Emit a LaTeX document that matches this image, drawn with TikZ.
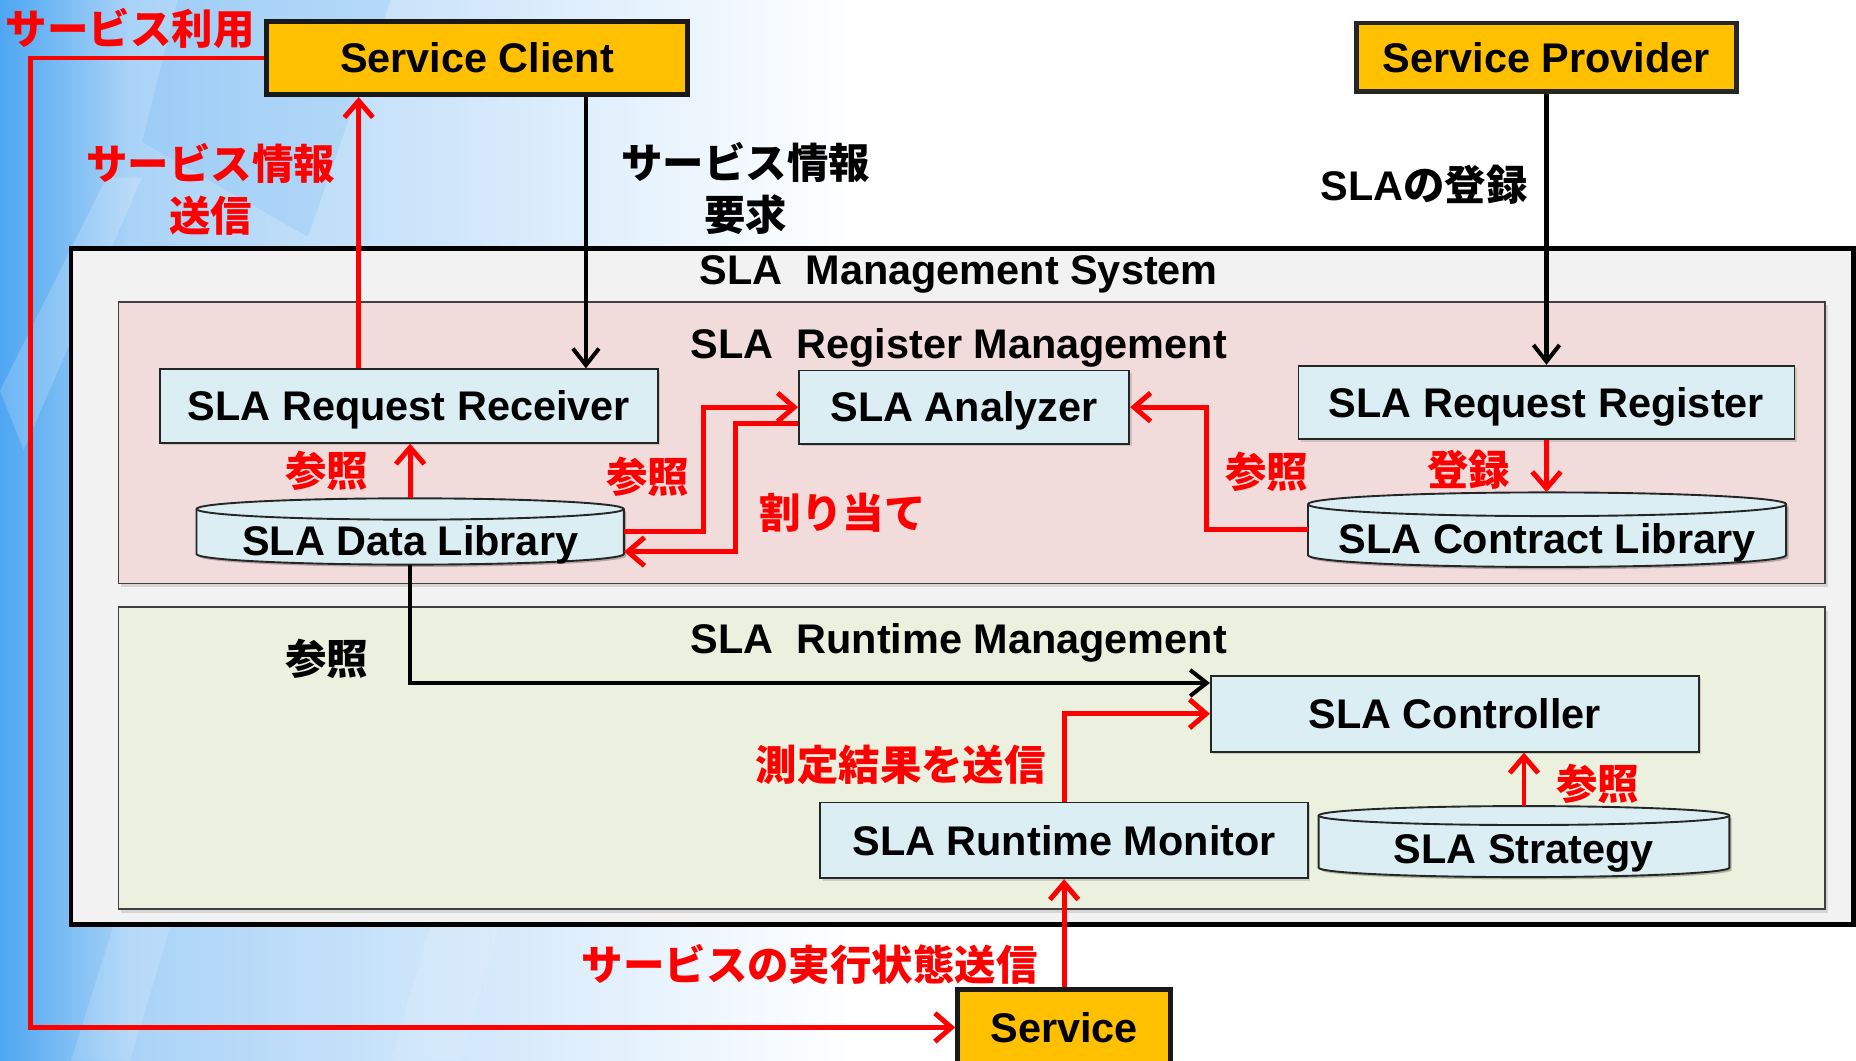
\documentclass[tikz,border=0pt]{standalone}
\usepackage{fontspec}
\setmainfont{Liberation Sans}
\newfontfamily\jp{Noto Sans CJK JP}
\usetikzlibrary{arrows.meta,shadows}

\definecolor{orangeF}{HTML}{FFC000}
\definecolor{blueF}{HTML}{DAEEF3}
\definecolor{pinkF}{HTML}{F2DCDB}
\definecolor{greenF}{HTML}{EBF1DE}
\definecolor{sysF}{HTML}{F2F2F2}
\definecolor{bgA}{RGB}{78,166,242}
\definecolor{bgB}{RGB}{170,211,247}
\definecolor{linkred}{HTML}{FF0000}

% cylinder body: left, top, right, bottom, half-height of the end ellipses
\newcommand\drawcyl[5]{%
  \pgfmathsetmacro\cylrx{(#3-#1)/2}%
  \fill[black,opacity=.25] (#1+2,#2+#5+2) -- (#1+2,#4-#5+2)
    arc[start angle=180,end angle=360,x radius=\cylrx pt,y radius=#5pt]
    -- (#3+2,#2+#5+2) -- cycle;
  \draw[cylbody] (#1,#2+#5) -- (#1,#4-#5)
    arc[start angle=180,end angle=360,x radius=\cylrx pt,y radius=#5pt]
    -- (#3,#2+#5)
    arc[start angle=0,end angle=180,x radius=\cylrx pt,y radius=#5pt] -- cycle;
  \draw[cylbody,fill=none] (#1,#2+#5)
    arc[start angle=180,end angle=360,x radius=\cylrx pt,y radius=#5pt];
}

\tikzset{
  lab/.style={font=\bfseries\fontsize{35}{42}\selectfont, inner sep=0pt,
    text height=25pt, text depth=0pt},
  jlab/.style={font=\jp\bfseries\fontsize{35}{44}\selectfont, align=center, inner sep=0pt},
  redtext/.style={text=linkred},
  obox/.style={draw=black!90, line width=4pt, fill=orangeF, inner sep=0pt,
    font=\bfseries\fontsize{35}{42}\selectfont, text height=25pt, text depth=0pt},
  bbox/.style={draw=black!85, line width=1.6pt, fill=blueF, inner sep=0pt,
    font=\bfseries\fontsize{35}{42}\selectfont, text height=25pt, text depth=0pt,
    drop shadow={shadow xshift=2pt, shadow yshift=-2pt, opacity=.3}},
  secbox/.style={draw=black!75, line width=1.3pt, inner sep=0pt,
    drop shadow={shadow xshift=2pt, shadow yshift=-3pt, opacity=.25}},
  sysbox/.style={draw=black, line width=4pt, fill=sysF, inner sep=0pt},
  cylspot/.style={inner sep=0pt},
  cylbody/.style={draw=black!85, line width=1.6pt, fill=blueF},
  rarrow/.style={draw=linkred, line width=4.2pt, line join=miter,
    -{Straight Barb[length=14pt,width=24pt]}},
  barrow/.style={draw=black, line width=3.4pt, line join=miter,
    -{Straight Barb[length=14pt,width=22pt]}},
}

\begin{document}
\begin{tikzpicture}[x=1pt,y=-1pt]
  \useasboundingbox (0,0) rectangle (1568,896);

  % backdrop: blue wash on the left fading to white
  \fill[white] (0,0) rectangle (1568,896);
  \fill[left color=bgA,right color=bgB] (0,0) rectangle (110,896);
  \fill[left color=bgB,right color=white] (110,0) rectangle (720,896);
  \fill[white,opacity=.18] (0,330) -- (90,150) -- (120,150) -- (20,380) -- cycle;
  \fill[white,opacity=.15] (60,896) -- (260,260) -- (300,260) -- (110,896) -- cycle;
  \fill[white,opacity=.12] (330,896) -- (470,420) -- (520,420) -- (390,896) -- cycle;
  \fill[bgA,opacity=.15] (150,0) -- (330,0) -- (260,200) -- (120,120) -- cycle;

  % containers
  \node[sysbox, minimum width=1506, minimum height=571] (sys) at (813,495.5) {};
  \node[secbox, fill=pinkF, minimum width=1442, minimum height=238] (reg) at (821,374) {};
  \node[secbox, fill=greenF, minimum width=1442, minimum height=255] (rt) at (821,640.5) {};
  \node[lab] (systitle) at (810,228) {SLA\ \ Management System};
  \node[lab] (regtitle) at (810,290) {SLA\ \ Register Management};
  \node[lab] (rttitle) at (810,540) {SLA\ \ Runtime Management};

  % actors
  \node[obox, minimum width=356, minimum height=62] (client) at (403,49) {Service Client};
  \node[obox, draw=black!85, minimum width=321, minimum height=58] (provider) at (1306.5,48.5) {Service Provider};
  \node[obox, minimum width=180, minimum height=64] (service) at (899,868) {Service};

  % components
  \node[bbox, minimum width=421, minimum height=62] (recv) at (345.5,343) {SLA Request Receiver};
  \node[bbox, minimum width=279, minimum height=62] (analyzer) at (814.5,344) {SLA Analyzer};
  \node[bbox, minimum width=419, minimum height=62] (register) at (1306.5,340) {SLA Request Register};
  \node[bbox, minimum width=412, minimum height=64] (controller) at (1229,603) {SLA Controller};
  \node[bbox, minimum width=412, minimum height=64] (monitor) at (899,710) {SLA Runtime Monitor};

  % data stores
  \node[cylspot, minimum width=361, minimum height=56] (datalib) at (346.5,449) {};
  \drawcyl{166}{421}{527}{477}{9}
  \node[lab] (datalib-l) at (346.5,457) {SLA Data Library};
  \node[cylspot, minimum width=404, minimum height=63] (contract) at (1307,447.5) {};
  \drawcyl{1105}{416}{1509}{479}{10}
  \node[lab] (contract-l) at (1307,455) {SLA Contract Library};
  \node[cylspot, minimum width=347, minimum height=60] (strategy) at (1287.5,711) {};
  \drawcyl{1114}{681}{1461}{741}{8}
  \node[lab] (strategy-l) at (1287.5,717) {SLA Strategy};

  % routing columns
  \coordinate (xL) at (26,0);
  \coordinate (xA) at (303,0);
  \coordinate (xB) at (495,0);
  \coordinate (xC) at (594,0);
  \coordinate (xD) at (621,0);
  \coordinate (xE) at (1019,0);
  \coordinate (anOut) at ([yshift=-14pt]analyzer.west);
  \coordinate (dlIn) at ([yshift=-17pt]datalib.east);
  \coordinate (ctIn) at ([yshift=26pt]controller.west);

  % connectors
  \draw[rarrow] (client.west) -- (client.west -| xL) -- (service.west -| xL) -- (service.west);
  \draw[rarrow] (recv.north -| xA) -- (client.south -| xA);
  \draw[barrow] (client.south -| xB) -- (recv.north -| xB);
  \draw[barrow] (provider.south) -- (register.north);
  \draw[rarrow] (datalib.north) -- (datalib.north |- recv.south);
  \draw[rarrow] (datalib.east) -- (datalib.east -| xC) -- (analyzer.west -| xC) -- (analyzer.west);
  \draw[rarrow] (anOut) -- (anOut -| xD) -- (dlIn -| xD) -- (dlIn);
  \draw[rarrow] (contract.west) -- (contract.west -| xE) -- (analyzer.east -| xE) -- (analyzer.east);
  \draw[rarrow] (register.south) -- (register.south |- contract.north);
  \draw[barrow] (datalib.south) -- (datalib.south |- ctIn) -- (ctIn);
  \draw[rarrow] (monitor.north) -- (monitor.north |- controller.west) -- (controller.west);
  \draw[rarrow] (strategy.north) -- (strategy.north |- controller.south);
  \draw[rarrow] (service.north) -- (monitor.south);

  % connector labels
  \node[jlab, redtext] (l-use) at (110,24) {サービス利用};
  \node[jlab, redtext] (l-infosend) at (178,160) {サービス情報\\送信};
  \node[jlab] (l-inforeq) at (630,159) {サービス情報\\要求};
  \node[lab] (l-slareg) at (1203,157) {SLA{\jp\bfseries の登録}};
  \node[jlab, redtext] (l-ref1) at (276,398) {参照};
  \node[jlab, redtext] (l-ref2) at (547,403) {参照};
  \node[jlab, redtext] (l-assign) at (712,433) {割り当て};
  \node[jlab, redtext] (l-ref3) at (1070,399) {参照};
  \node[jlab, redtext] (l-regist) at (1241,397) {登録};
  \node[jlab] (l-ref4) at (276,557) {参照};
  \node[jlab, redtext] (l-measure) at (761,646) {測定結果を送信};
  \node[jlab, redtext] (l-ref5) at (1350,662) {参照};
  \node[jlab, redtext] (l-state) at (684,815) {サービスの実行状態送信};
\end{tikzpicture}
\end{document}
